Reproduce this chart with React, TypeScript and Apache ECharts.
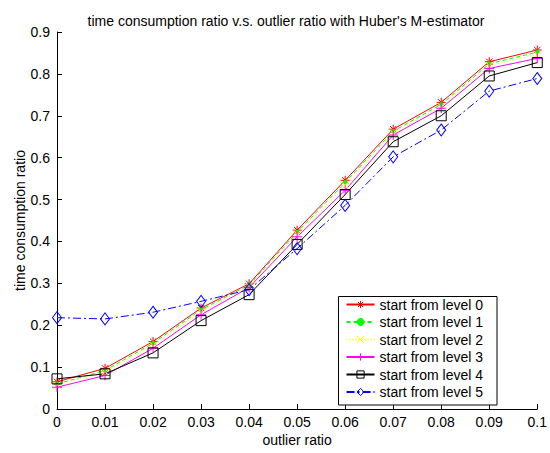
import React, { useEffect, useRef } from "react";
import * as echarts from "echarts";

const outlierRatios = [0, 0.01, 0.02, 0.03, 0.04, 0.05, 0.06, 0.07, 0.08, 0.09, 0.1];
const level0 = [0.065, 0.097, 0.161, 0.241, 0.299, 0.427, 0.546, 0.668, 0.732, 0.829, 0.857];
const level1 = [0.06, 0.092, 0.157, 0.237, 0.296, 0.422, 0.541, 0.663, 0.727, 0.824, 0.852];
const level2 = [0.057, 0.088, 0.152, 0.232, 0.293, 0.417, 0.534, 0.659, 0.722, 0.82, 0.846];
const level3 = [0.052, 0.08, 0.145, 0.225, 0.29, 0.411, 0.522, 0.654, 0.718, 0.813, 0.837];
const level4 = [0.072, 0.084, 0.134, 0.211, 0.273, 0.393, 0.512, 0.638, 0.7, 0.795, 0.827];
const level5 = [0.218, 0.215, 0.231, 0.257, 0.285, 0.383, 0.486, 0.602, 0.666, 0.759, 0.789];
const seriesNames = [
  "start from level 0",
  "start from level 1",
  "start from level 2",
  "start from level 3",
  "start from level 4",
  "start from level 5",
];

const STAR = "path://M5,0L5,10M0,5L10,5M1.5,1.5L8.5,8.5M8.5,1.5L1.5,8.5";
const PLUS = "path://M5,0L5,10M0,5L10,5";
const CROSS = "path://M0,0L10,10M10,0L0,10";

export default function App() {
  const ref = useRef<HTMLDivElement>(null);
  useEffect(() => {
    if (!ref.current) return;
    const chart = echarts.init(ref.current, undefined, { renderer: "svg" });
    const font = "Liberation Sans, Arial, sans-serif";
    const mk = (
      name: string,
      vals: number[],
      color: string,
      lineType: any,
      symbol: string,
      symbolSize: any,
      fill: string
    ) => ({
      name,
      type: "line",
      data: vals.map((v, i) => [outlierRatios[i], v]),
      symbol,
      symbolSize,
      showAllSymbol: true,
      lineStyle: { color, width: 1, type: lineType },
      itemStyle: { color: fill, borderColor: color, borderWidth: 1 },
      emphasis: { disabled: true },
    });
    chart.setOption({
      animation: false,
      backgroundColor: "#ffffff",
      title: {
        text: "time consumption ratio v.s. outlier ratio with Huber's M-estimator",
        left: 281,
        textAlign: "center",
        top: 9,
        textStyle: { fontFamily: font, fontSize: 14, fontWeight: "normal", color: "#000" },
      },
      grid: { left: 57, right: 10, top: 32, bottom: 44 },
      legend: {
        orient: "vertical",
        right: 53,
        bottom: 48,
        backgroundColor: "#ffffff",
        borderColor: "#000",
        borderWidth: 1,
        padding: [1, 14, 6, 7],
        itemWidth: 28,
        itemHeight: 9,
        itemGap: 3.5,
        itemStyle: { borderWidth: 1 },
        textStyle: { fontFamily: font, fontSize: 14, color: "#000" },
        data: seriesNames,
      },
      xAxis: {
        type: "value",
        min: 0,
        max: 0.1,
        interval: 0.01,
        name: "outlier ratio",
        nameLocation: "middle",
        nameGap: 24,
        nameMoveOverlap: false,
        nameTextStyle: { fontFamily: font, fontSize: 14, color: "#000" },
        axisLine: { lineStyle: { color: "#000", width: 1 } },
        axisTick: { inside: true, length: 5, lineStyle: { color: "#000" } },
        axisLabel: {
          fontFamily: font,
          fontSize: 14,
          color: "#000",
          margin: 6,
          formatter: (v: number) => String(+v.toFixed(2)),
        },
        splitLine: { show: false },
      },
      yAxis: {
        type: "value",
        min: 0,
        max: 0.9,
        interval: 0.1,
        name: "time consumption ratio",
        nameLocation: "middle",
        nameGap: 30,
        nameMoveOverlap: false,
        nameTextStyle: { fontFamily: font, fontSize: 14, color: "#000" },
        axisLine: { show: true, lineStyle: { color: "#000", width: 1 } },
        axisTick: { show: true, inside: true, length: 5, lineStyle: { color: "#000" } },
        axisLabel: {
          fontFamily: font,
          fontSize: 14,
          color: "#000",
          margin: 7,
          formatter: (v: number) => String(+v.toFixed(1)),
        },
        splitLine: { show: false },
      },
      series: [
        mk(seriesNames[0], level0, "#ff0000", "solid", STAR, 9, "none"),
        mk(seriesNames[1], level1, "#00ff00", [4, 3], "circle", 4, "#00ff00"),
        mk(seriesNames[2], level2, "#ffff00", [1, 2], CROSS, 7, "none"),
        mk(seriesNames[3], level3, "#ff00ff", "solid", PLUS, 10, "none"),
        mk(seriesNames[4], level4, "#000000", "solid", "rect", 10, "none"),
        mk(seriesNames[5], level5, "#0000ff", [8, 3, 2, 3], "diamond", [9, 12], "none"),
      ],
    });
    return () => chart.dispose();
  }, []);
  return (
    <div
      ref={ref}
      style={{ position: "absolute", left: 0, top: 0, width: 550, height: 453 }}
    />
  );
}
